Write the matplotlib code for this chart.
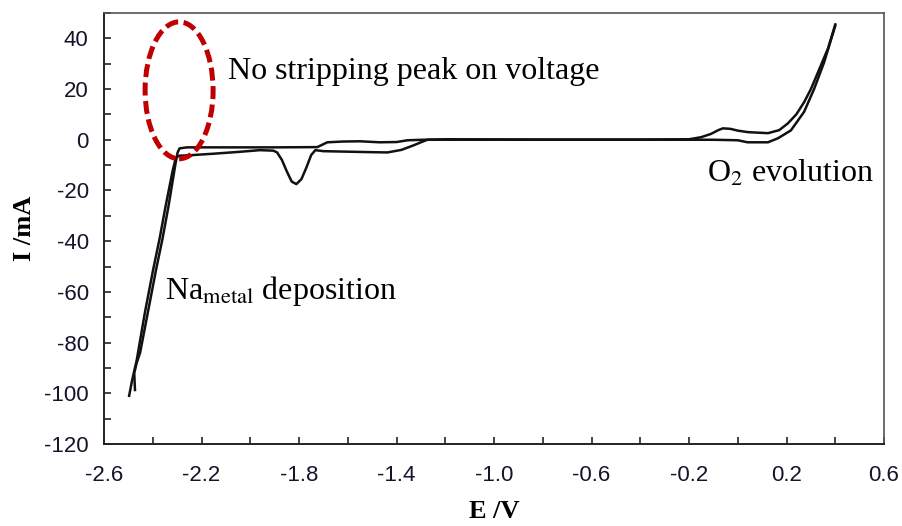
import matplotlib
matplotlib.use("Agg")
import matplotlib.pyplot as plt
from matplotlib.patches import Ellipse
from matplotlib.ticker import MultipleLocator

# ==========================
# Data
# ==========================
# cathodic sweep, 0.4 V -> -2.5 V
cath_E = [0.40, 0.354, 0.313, 0.272, 0.218, 0.165, 0.124, 0.04, 0.00, -0.10, -0.40,
          -0.80, -1.20, -1.273, -1.30, -1.33, -1.38, -1.437, -1.50, -1.60, -1.70,
          -1.733, -1.75, -1.77, -1.79, -1.811, -1.83, -1.85, -1.87, -1.89, -1.905,
          -1.96, -2.05, -2.15, -2.247, -2.29, -2.305, -2.318, -2.348, -2.372, -2.398,
          -2.432, -2.466, -2.485, -2.497]
cath_I = [45.0, 30.5, 20.0, 11.0, 3.7, 0.6, -1.0, -1.0, -0.2, 0.0, 0.0,
          0.0, 0.0, 0.0, -1.0, -2.2, -4.0, -5.0, -4.9, -4.7, -4.5,
          -4.1, -6.0, -11.0, -15.5, -17.5, -16.5, -12.5, -8.0, -5.0, -4.3,
          -4.1, -4.8, -5.5, -6.1, -6.3, -7.0, -12.0, -26.5, -39.0, -51.0,
          -68.0, -87.0, -95.0, -101.0]

# anodic sweep, -2.5 V -> 0.4 V
anod_E = [-2.473, -2.476, -2.466, -2.452, -2.420, -2.386, -2.360, -2.336, -2.306,
          -2.298, -2.290, -2.26, -2.10, -1.90, -1.725, -1.684, -1.62, -1.55, -1.47,
          -1.40, -1.355, -1.29, -1.20, -0.80, -0.40, -0.20, -0.151, -0.11, -0.08,
          -0.061, -0.03, 0.00, 0.042, 0.124, 0.17, 0.206, 0.24, 0.272, 0.30, 0.329,
          0.37, 0.40]
anod_I = [-98.7, -92.0, -88.0, -84.0, -68.0, -51.0, -39.0, -26.5, -9.0,
          -5.0, -3.4, -3.0, -3.0, -3.0, -2.9, -1.0, -0.7, -0.6, -1.0,
          -0.9, -0.2, 0.0, 0.2, 0.1, 0.1, 0.2, 1.0, 2.3, 3.8,
          4.5, 4.3, 3.6, 3.0, 2.6, 3.8, 6.5, 10.0, 14.8, 20.0, 26.6,
          36.0, 45.5]

x_ticks = [-2.6, -2.2, -1.8, -1.4, -1.0, -0.6, -0.2, 0.2, 0.6]
y_ticks = [40, 20, 0, -20, -40, -60, -80, -100, -120]

# ==========================
# Figure
# ==========================
plt.rcParams["mathtext.fontset"] = "stix"
plt.rcParams["axes.unicode_minus"] = False
serif = ["Liberation Serif", "DejaVu Serif"]
sans = ["Liberation Sans", "DejaVu Sans"]

fig = plt.figure(figsize=(9.03, 5.26), dpi=100)
ax = fig.add_axes([0.1152, 0.1559, 0.8638, 0.8194])

ax.plot(cath_E, cath_I, color="#111111", lw=1.8, solid_joinstyle="round")
ax.plot(anod_E, anod_I, color="#111111", lw=1.8, solid_joinstyle="round")

ax.set_xlim(-2.6, 0.6)
ax.set_ylim(-120, 50)
ax.set_xticks(x_ticks)
ax.set_xticklabels([f"{v:.1f}" for v in x_ticks])
ax.xaxis.set_minor_locator(MultipleLocator(0.2))
ax.set_yticks(y_ticks)
ax.yaxis.set_minor_locator(MultipleLocator(10))
ax.tick_params(which="both", direction="in", length=5, width=1.2,
               top=False, right=False, colors="#222222", labelcolor="#14142b",
               labelsize=16)
ax.tick_params(axis="x", pad=15)
ax.tick_params(axis="y", pad=11)
for lab in ax.get_xticklabels() + ax.get_yticklabels():
    lab.set_family(sans)

for side in ("left", "bottom"):
    ax.spines[side].set_color("#222222")
    ax.spines[side].set_linewidth(1.4)
for side in ("top", "right"):
    ax.spines[side].set_color("#555555")
    ax.spines[side].set_linewidth(1.2)

ax.set_xlabel("E /V", family=serif, fontweight="bold", fontsize=19, labelpad=10)
ax.set_ylabel("I /mA", family=serif, fontweight="bold", fontsize=19, labelpad=6)

# dashed red marker where a stripping peak would be
ax.add_patch(Ellipse((-2.292, 19.5), 0.279, 54, fill=False, edgecolor="#C00000",
                     lw=3.6, linestyle=(0, (2.6, 1.1)), zorder=4))

ax.text(-2.09, 24, "No stripping peak on voltage", family=serif, fontsize=23,
        ha="left", va="baseline")
ax.text(-0.127, -16.5, r"O$_2$ evolution", family=serif, fontsize=23,
        ha="left", va="baseline")
ax.text(-2.35, -63, r"Na$_{\mathrm{metal}}$ deposition", family=serif, fontsize=23,
        ha="left", va="baseline")

fig.savefig("out.png", dpi=100)
